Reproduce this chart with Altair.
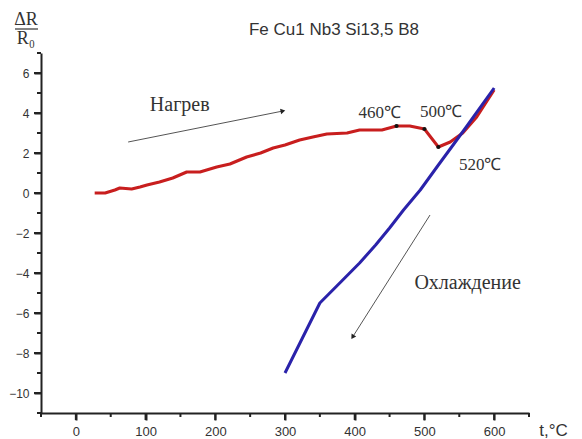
import altair as alt
import pandas as pd

# ---- data ----
heat_t = [27, 42, 56, 63, 80, 92, 102, 120, 139, 159, 178, 202, 221, 245, 265, 283,
          300, 321, 340, 360, 389, 407, 439, 460, 479, 500, 520, 537, 555, 575, 587, 600]
heat_v = [0.0, 0.0, 0.15, 0.25, 0.2, 0.3, 0.4, 0.55, 0.75, 1.05, 1.05, 1.3, 1.45, 1.8, 2.0, 2.25,
          2.4, 2.65, 2.8, 2.95, 3.0, 3.15, 3.15, 3.35, 3.35, 3.2, 2.3, 2.55, 3.0, 3.8, 4.45, 5.15]

cool_t = [600, 560, 539, 520, 494, 470, 450, 430, 407, 380, 350, 325, 300]
cool_v = [5.25, 3.3, 2.3, 1.4, 0.15, -0.85, -1.75, -2.6, -3.5, -4.45, -5.5, -7.25, -9.0]

marker_t = [460, 500, 520]
marker_v = [3.35, 3.2, 2.3]

temp_labels = ["460℃", "500℃", "520℃"]
temp_label_t = [436, 524, 580]
temp_label_v = [4.0, 4.05, 1.4]

word_labels = ["Нагрев", "Охлаждение"]
word_label_t = [149, 562]
word_label_v = [4.4, -4.5]

arrow_id = ["heat", "heat", "cool", "cool"]
arrow_t = [75, 297, 508, 397]
arrow_v = [2.55, 4.1, -1.1, -7.2]
arrowhead_t = [297, 397]
arrowhead_v = [4.1, -7.2]
arrowhead_angle = [349, 122]

x_major = list(range(0, 601, 100))
x_minor = list(range(-50, 651, 100))
y_major = list(range(-10, 7, 2))
y_minor = list(range(-11, 8, 2))

title_text = "Fe Cu1 Nb3 Si13,5 B8"
x_title = "t,°C"

# ---- tables ----
heat = pd.DataFrame({"t": heat_t, "v": heat_v})
cool = pd.DataFrame({"t": cool_t, "v": cool_v})
marks = pd.DataFrame({"t": marker_t, "v": marker_v})
temps = pd.DataFrame({"t": temp_label_t, "v": temp_label_v, "label": temp_labels})
words = pd.DataFrame({"t": word_label_t, "v": word_label_v, "label": word_labels})
arrows = pd.DataFrame({"t": arrow_t, "v": arrow_v, "id": arrow_id})
heads = pd.DataFrame({"t": arrowhead_t, "v": arrowhead_v, "ang": arrowhead_angle})
xmajor = pd.DataFrame({"t": x_major})
ymajor = pd.DataFrame({"v": y_major})
xminor = pd.DataFrame({"t": x_minor})
yminor = pd.DataFrame({"v": y_minor})
one = pd.DataFrame({"k": [0]})

AX = "#222222"
xscale = alt.Scale(domain=[-50, 650], nice=False, zero=False)
yscale = alt.Scale(domain=[-11, 7], nice=False, zero=False)

xaxis = alt.Axis(
    values=x_major, ticks=True, tickSize=7,
    tickWidth=2, tickColor=AX, domainColor=AX, domainWidth=2,
    labelFont="Liberation Sans", labelFontSize=13, labelColor="#333333",
    labelPadding=5, labelOverlap=False, labelFlush=False, grid=False,
    title=x_title, titleFont="Liberation Sans", titleFontSize=17, titleFontWeight="normal",
    titleColor="#333333", titleX=512, titleY=17, titleAlign="center", titleBaseline="middle",
)
yaxis = alt.Axis(
    values=y_major, ticks=True, tickSize=7,
    tickWidth=2, tickColor=AX, domainColor=AX, domainWidth=2,
    labelFont="Liberation Sans", labelFontSize=12, labelColor="#333333",
    labelPadding=5, labelOverlap=False, labelFlush=False, grid=False,
)


def X():
    return alt.X("t:Q", scale=xscale, axis=xaxis)


def Y():
    return alt.Y("v:Q", scale=yscale, axis=yaxis, title=None)


heat_line = alt.Chart(heat).mark_line(color="#c81e1e", strokeWidth=3, strokeJoin="round").encode(x=X(), y=Y())
cool_line = alt.Chart(cool).mark_line(color="#2a22aa", strokeWidth=3, strokeJoin="round").encode(x=X(), y=Y())
dots = alt.Chart(marks).mark_point(filled=True, color="#111111", size=18, opacity=1).encode(x=X(), y=Y())

arrow_lines = alt.Chart(arrows).mark_line(color="#555555", strokeWidth=1).encode(x=X(), y=Y(), detail="id:N")
arrow_heads = alt.Chart(heads).mark_point(shape="triangle-right", filled=True, color="#222222", size=30, opacity=1).encode(
    x=X(), y=Y(), angle=alt.Angle("ang:Q", scale=None))

temp_text = alt.Chart(temps).mark_text(font="Liberation Serif", fontSize=17, color="#333333").encode(
    x=X(), y=Y(), text="label:N")
word_text = alt.Chart(words).mark_text(font="Liberation Serif", fontSize=20, color="#333333").encode(
    x=X(), y=Y(), text="label:N")

# major and minor ticks along the axes
x_major_ticks = alt.Chart(xmajor).mark_rule(color=AX, strokeWidth=2, opacity=1).encode(
    x=X(), y=alt.value(360), y2=alt.value(367))
y_major_ticks = alt.Chart(ymajor).mark_rule(color=AX, strokeWidth=2, opacity=1).encode(
    y=Y(), x=alt.value(0), x2=alt.value(-7))
x_minor_ticks = alt.Chart(xminor).mark_rule(color=AX, strokeWidth=2, opacity=1).encode(
    x=X(), y=alt.value(360), y2=alt.value(364))
y_minor_ticks = alt.Chart(yminor).mark_rule(color=AX, strokeWidth=2, opacity=1).encode(
    y=Y(), x=alt.value(0), x2=alt.value(-4))

title = alt.Chart(one).mark_text(font="Liberation Sans", fontSize=17, color="#333333").encode(
    x=alt.value(293), y=alt.value(-23), text=alt.value(title_text))
dr = alt.Chart(one).mark_text(font="Liberation Serif", fontSize=18, color="#333333").encode(
    x=alt.value(-15), y=alt.value(-33), text=alt.value("ΔR"))
r0 = alt.Chart(one).mark_text(font="Liberation Serif", fontSize=18, color="#333333").encode(
    x=alt.value(-15), y=alt.value(-14), text=alt.value("R₀"))
bar = alt.Chart(one).mark_rule(color="#333333", strokeWidth=1.2).encode(
    x=alt.value(-26), x2=alt.value(-3), y=alt.value(-24))

chart = alt.layer(
    heat_line, cool_line, dots, arrow_lines, arrow_heads, temp_text, word_text,
    x_major_ticks, y_major_ticks, x_minor_ticks, y_minor_ticks, title, dr, r0, bar
).properties(
    width=488, height=360,
    autosize=alt.AutoSizeParams(type="none"),
    padding={"left": 33, "top": 45, "right": 45, "bottom": 26},
).configure_view(stroke=None)

chart.save("out.html", embed_options={"renderer": "svg", "actions": False})
